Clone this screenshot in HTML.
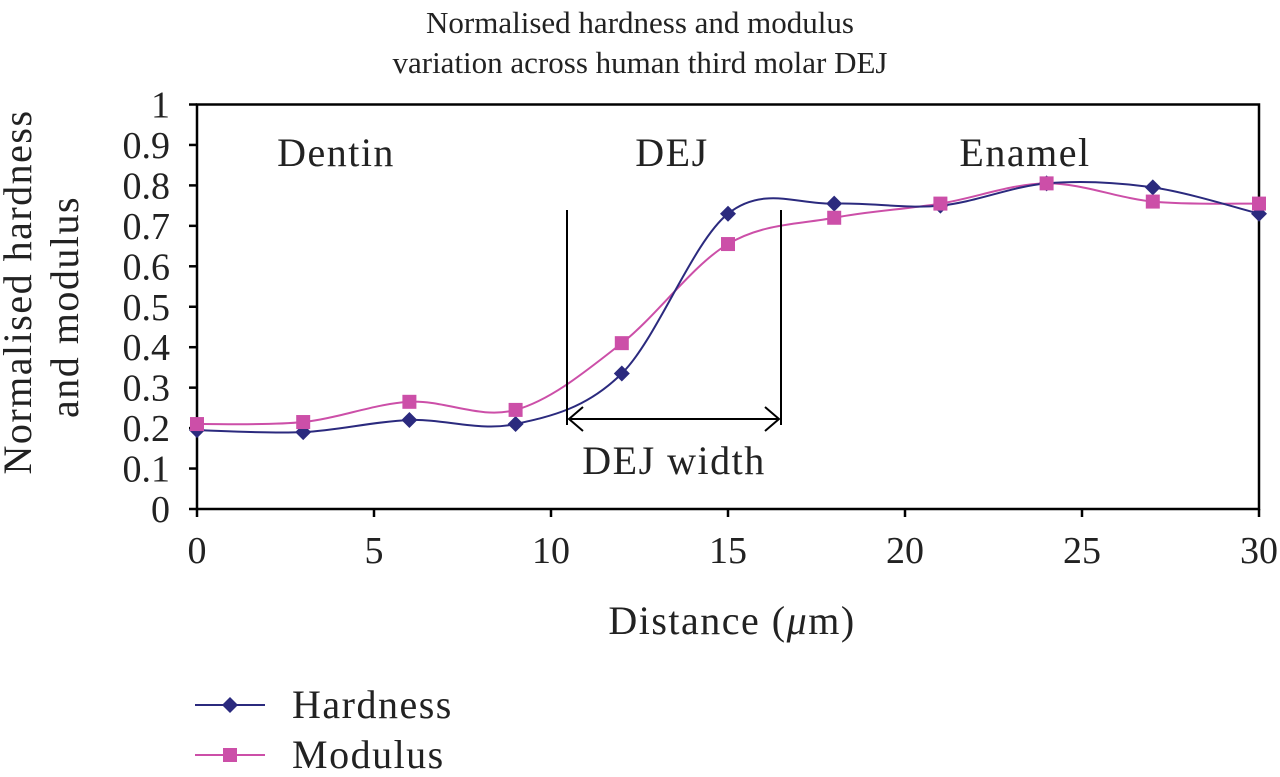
<!DOCTYPE html>
<html><head><meta charset="utf-8"><style>
body{margin:0;background:#fff;}
svg text{font-family:"Liberation Serif",serif;fill:#222;}
.big{font-size:40px;letter-spacing:1.5px;}
</style></head><body>
<svg width="1280" height="772" viewBox="0 0 1280 772">
<text x="640" y="33" font-size="31" text-anchor="middle">Normalised hardness and modulus</text>
<text x="640" y="73" font-size="31" text-anchor="middle">variation across human third molar DEJ</text>
<g id="axes"></g>
<g id="series"></g>
<text x="336" y="166" class="big" text-anchor="middle">Dentin</text>
<text x="672" y="166" class="big" text-anchor="middle">DEJ</text>
<text x="1025" y="166" class="big" text-anchor="middle">Enamel</text>
<line x1="567" y1="210" x2="567" y2="425" stroke="#000" stroke-width="2"/>
<line x1="781" y1="210" x2="781" y2="425" stroke="#000" stroke-width="2"/>
<g stroke="#000" stroke-width="2" fill="none">
<line x1="569" y1="419" x2="779" y2="419"/>
<polyline points="583,407 569,419 583,431"/>
<polyline points="765,407 779,419 765,431"/>
</g>
<text x="674" y="474" class="big" text-anchor="middle">DEJ width</text>
<text x="732" y="634" class="big" text-anchor="middle">Distance (<tspan font-style="italic">μ</tspan>m)</text>
<text transform="translate(31,292) rotate(-90)" class="big" text-anchor="middle">Normalised hardness</text>
<text transform="translate(78,307) rotate(-90)" class="big" text-anchor="middle">and modulus</text>
<g>
<line x1="195" y1="705" x2="265" y2="705" stroke="#2b2a7e" stroke-width="2"/>
<polygon points="230,697 238,705 230,713 222,705" fill="#2b2a7e"/>
<text x="292" y="718" class="big">Hardness</text>
</g>
<g>
<line x1="195" y1="755" x2="265" y2="755" stroke="#cc4fa8" stroke-width="2"/>
<rect x="223" y="748" width="14" height="14" fill="#cc4fa8"/>
<text x="292" y="768" class="big">Modulus</text>
</g>
</svg>
<script>
const xValues=[0,3,6,9,12,15,18,21,24,27,30];
const hardness=[0.195,0.19,0.22,0.21,0.335,0.73,0.755,0.75,0.805,0.795,0.73];
const modulus=[0.21,0.215,0.265,0.245,0.41,0.655,0.72,0.755,0.805,0.76,0.755];
const yTicks=[0,0.1,0.2,0.3,0.4,0.5,0.6,0.7,0.8,0.9,1];
const xTicks=[0,5,10,15,20,25,30];
const NS="http://www.w3.org/2000/svg";
const X0=197,X1=1259,Y0=509,Y1=104.5;
const sx=v=>X0+(v-0)/30*(X1-X0);
const sy=v=>Y0-v*(Y0-Y1);
function mk(t,a,p){const e=document.createElementNS(NS,t);for(const k in a)e.setAttribute(k,a[k]);p.appendChild(e);return e;}
const ax=document.getElementById('axes');
const frame=mk('rect',{x:X0,y:Y1,width:X1-X0,height:Y0-Y1,fill:'none',stroke:'#000','stroke-width':2.5},ax);


yTicks.forEach(v=>{
 const l=mk('line',{x1:X0-8,x2:X0,y1:sy(v),y2:sy(v),stroke:'#000','stroke-width':2.5},ax);
 
 
 const t=mk('text',{x:170,y:sy(v)+13,'font-size':38,'text-anchor':'end'},ax);
 t.textContent=String(v);
 
 
});
xTicks.forEach(v=>{
 const l=mk('line',{x1:sx(v),x2:sx(v),y1:Y0,y2:Y0+8,stroke:'#000','stroke-width':2.5},ax);
 
 
 const t=mk('text',{x:sx(v),y:563,'font-size':38,'text-anchor':'middle'},ax);
 t.textContent=String(v);
 
 
});
function path(vals){
 const p=xValues.map((x,i)=>[sx(x),sy(vals[i])]);
 let d='M'+p[0][0]+','+p[0][1];
 for(let i=0;i<p.length-1;i++){
  const a=p[i-1]||p[i],b=p[i],c=p[i+1],e=p[i+2]||c;
  const c1=[b[0]+(c[0]-a[0])/6,b[1]+(c[1]-a[1])/6],c2=[c[0]-(e[0]-b[0])/6,c[1]-(e[1]-b[1])/6];
  d+=' C'+c1+' '+c2+' '+c;
 }
 return d;
}
const sg=document.getElementById('series');
const ml=mk('path',{d:path(modulus),fill:'none',stroke:'#cc4fa8','stroke-width':2},sg);


const hl=mk('path',{d:path(hardness),fill:'none',stroke:'#2b2a7e','stroke-width':2},sg);


xValues.forEach((x,i)=>{
 const cx=sx(x),cy=sy(hardness[i]);
 const d=mk('polygon',{points:`${cx},${cy-8} ${cx+8},${cy} ${cx},${cy+8} ${cx-8},${cy}`,fill:'#2b2a7e'},sg);
 
 
});
xValues.forEach((x,i)=>{
 const cx=sx(x),cy=sy(modulus[i]);
 const r=mk('rect',{x:cx-7,y:cy-7,width:14,height:14,fill:'#cc4fa8'},sg);
 
 
});
</script>
</body></html>
